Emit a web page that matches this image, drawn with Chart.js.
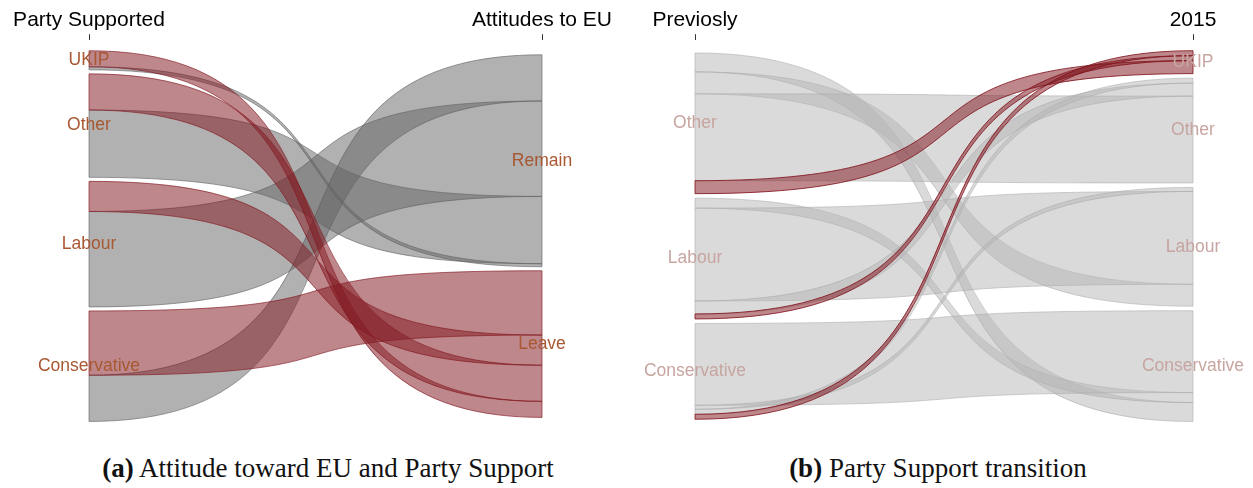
<!DOCTYPE html>
<html>
<head>
<meta charset="utf-8">
<script src="https://cdn.jsdelivr.net/npm/chart.js@4.4.1/dist/chart.umd.min.js"></script>
<style>
  body { margin: 0; background: #fff; width: 1253px; height: 488px; overflow: hidden; position: relative; }
  canvas { position: absolute; top: 0; }
  #chartA { left: 0; }
  #chartB { left: 626px; }
  .caption {
    position: absolute; top: 453px; line-height: 30px;
    font-family: 'Liberation Serif', 'Times New Roman', serif; font-size: 27px; color: #111;
    transform: translateX(-50%); white-space: nowrap;
  }
</style>
</head>
<body>
<canvas id="chartA" width="626" height="440"></canvas>
<canvas id="chartB" width="627" height="440"></canvas>
<div class="caption" style="left:328px"><b>(a)</b> Attitude toward EU and Party Support</div>
<div class="caption" style="left:938px"><b>(b)</b> Party Support transition</div>
<script>
// (a) party supported -> attitude to EU
const axesA = ['Party Supported', 'Attitudes to EU'];
const partiesA = ['UKIP', 'Other', 'Labour', 'Conservative'];
const attitudes = ['Remain', 'Leave'];
const leaveByParty = [16, 36, 30, 64];
const remainByParty = [3, 67, 95, 46];

// (b) previous party -> party in 2015
const axesB = ['Previosly', '2015'];
const previousParties = ['Other', 'Labour', 'Conservative'];
const parties2015 = ['UKIP', 'Other', 'Labour', 'Conservative'];
const toConservative = [19, 10, 82];
const toLabour = [22, 93, 4];
const toOther = [87, 13, 5];
const toUKIP = [13, 5, 5];

const flowsA = [];
partiesA.forEach((p, i) => {
  flowsA.push({ from: p, to: 'Leave', value: leaveByParty[i], hl: true });
  flowsA.push({ from: p, to: 'Remain', value: remainByParty[i], hl: false });
});

const flowsB = [];
previousParties.forEach((p, i) => {
  flowsB.push({ from: p, to: 'Conservative', value: toConservative[i], hl: false });
  flowsB.push({ from: p, to: 'Labour', value: toLabour[i], hl: false });
  flowsB.push({ from: p, to: 'Other', value: toOther[i], hl: false });
  flowsB.push({ from: p, to: 'UKIP', value: toUKIP[i], hl: true });
});

const MARGIN = 10.5;
const CURVE = 0.7;

// stack the strata on both axes, centred, and place every flow inside them
function layoutAlluvial(leftNodes, rightNodes, flows, gap) {
  const sum = (key, name) => flows.filter(f => f[key] === name).reduce((s, f) => s + f.value, 0);
  const stackH = (nodes, key) => nodes.reduce((s, n) => s + sum(key, n), 0) + gap * (nodes.length - 1);
  const hL = stackH(leftNodes, 'from'), hR = stackH(rightNodes, 'to');
  const span = Math.max(hL, hR) + 2 * MARGIN;
  const mid = span / 2;
  const nodes = [];

  let y = mid - hL / 2;
  leftNodes.forEach(n => {
    const start = y;
    flows.filter(f => f.from === n).sort((a, b) => a.to.localeCompare(b.to)).forEach(f => {
      f.y0 = y; y += f.value;
    });
    nodes.push({ name: n, side: 0, mid: (start + y) / 2 });
    y += gap;
  });

  y = mid - hR / 2;
  rightNodes.forEach(n => {
    const start = y;
    flows.filter(f => f.to === n).sort((a, b) => a.from.localeCompare(b.from)).forEach(f => {
      f.y1 = y; y += f.value;
    });
    nodes.push({ name: n, side: 1, mid: (start + y) / 2 });
    y += gap;
  });

  return { span, nodes, flows };
}

function alluvialPlugin(lay, style) {
  return {
    id: 'alluvial',
    afterDatasetsDraw(chart) {
      const ctx = chart.ctx;
      const xs = chart.scales.x, ys = chart.scales.y;
      const x0 = xs.getPixelForValue(0), x1 = xs.getPixelForValue(1);
      const dx = x1 - x0;
      ctx.save();
      const ordered = lay.flows.filter(f => !f.hl).concat(lay.flows.filter(f => f.hl));
      ordered.forEach(f => {
        const a0 = ys.getPixelForValue(f.y0), a1 = ys.getPixelForValue(f.y0 + f.value);
        const b0 = ys.getPixelForValue(f.y1), b1 = ys.getPixelForValue(f.y1 + f.value);
        ctx.beginPath();
        ctx.moveTo(x0, a0);
        ctx.bezierCurveTo(x0 + CURVE * dx, a0, x1 - CURVE * dx, b0, x1, b0);
        ctx.lineTo(x1, b1);
        ctx.bezierCurveTo(x1 - CURVE * dx, b1, x0 + CURVE * dx, a1, x0, a1);
        ctx.closePath();
        ctx.fillStyle = f.hl ? style.hlFill : style.fill;
        ctx.fill();
        ctx.lineWidth = 1;
        ctx.strokeStyle = f.hl ? style.hlStroke : style.stroke;
        ctx.stroke();
      });
      ctx.font = '17.5px "Liberation Sans", Arial, sans-serif';
      ctx.textAlign = 'center';
      ctx.textBaseline = 'middle';
      ctx.fillStyle = style.label;
      lay.nodes.forEach(n => {
        ctx.fillText(n.name, n.side ? x1 : x0, ys.getPixelForValue(n.mid));
      });
      ctx.restore();
    }
  };
}

function makeChart(id, axisNames, lay, style, padLeft, padRight) {
  return new Chart(document.getElementById(id), {
    type: 'line',
    data: { labels: axisNames, datasets: [] },
    options: {
      responsive: false,
      animation: false,
      layout: { padding: { left: padLeft, right: padRight, top: 7, bottom: 8 } },
      plugins: { legend: { display: false }, tooltip: { enabled: false } },
      scales: {
        x: {
          type: 'category',
          position: 'top',
          offset: false,
          grid: { display: true, drawOnChartArea: false, drawTicks: true, tickLength: 6, color: '#333' },
          border: { display: false },
          ticks: {
            color: '#000',
            font: { family: '"Liberation Sans", Arial, sans-serif', size: 21 },
            padding: 1, maxRotation: 0, autoSkip: false
          }
        },
        y: { type: 'linear', display: false, reverse: true, min: 0, max: lay.span }
      }
    },
    plugins: [alluvialPlugin(lay, style)]
  });
}

const layA = layoutAlluvial(partiesA, attitudes, flowsA, 4);
const layB = layoutAlluvial(previousParties, parties2015, flowsB, 4.5);

makeChart('chartA', axesA, layA, {
  fill: 'rgba(100,100,100,0.5)', stroke: 'rgba(95,95,95,0.6)',
  hlFill: 'rgba(130,24,33,0.52)', hlStroke: 'rgba(130,24,33,0.65)',
  label: '#a85832'
}, 89, 84);

makeChart('chartB', axesB, layB, {
  fill: 'rgba(182,182,182,0.5)', stroke: 'rgba(170,170,170,0.55)',
  hlFill: 'rgba(130,24,33,0.52)', hlStroke: 'rgba(130,24,33,0.85)',
  label: '#c7a5a0'
}, 69, 60);
</script>
</body>
</html>
